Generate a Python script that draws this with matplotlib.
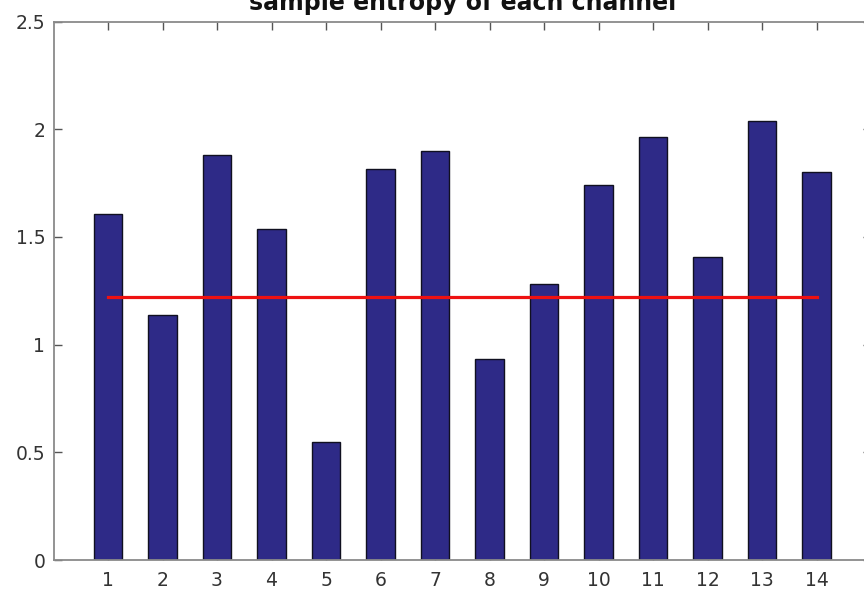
import matplotlib
matplotlib.use("Agg")
import matplotlib.pyplot as plt
import numpy as np

channels = list(range(1, 15))
entropy = [1.606, 1.139, 1.880, 1.537, 0.549, 1.816, 1.901, 0.931, 1.281,
           1.741, 1.963, 1.409, 2.040, 1.802]
threshold = 1.220
yticks = [0, 0.5, 1, 1.5, 2, 2.5]
ytick_labels = ["0", "0.5", "1", "1.5", "2", "2.5"]
title = "sample entropy of each channel"

plt.rcParams['font.family'] = ['DejaVu Sans']

W, H = 864, 592
fig = plt.figure(figsize=(W / 100, H / 100), dpi=100)
fig.patch.set_facecolor('white')
left, right, top, bottom = 53.5, 871, 21.5, 560
ax = fig.add_axes([left / W, 1 - bottom / H, (right - left) / W, (bottom - top) / H])

ax.bar(channels, entropy, width=0.52, color='#2e2a87', edgecolor='#101020',
       linewidth=1.0, zorder=2)
ax.plot([channels[0], channels[-1]], [threshold, threshold], color='#ee1111',
        linewidth=2.3, zorder=3)

ax.set_xlim(0, 15)
ax.set_ylim(0, 2.5)
ax.set_xticks(channels)
ax.set_xticklabels([str(c) for c in channels])
ax.set_yticks(yticks)
ax.set_yticklabels(ytick_labels)

for s in ax.spines.values():
    s.set_color('#8a8a8a')
    s.set_linewidth(1.3)

ax.tick_params(axis='both', direction='in', length=6, width=1.0, color='#555555',
               labelsize=13.5, labelcolor='#333333', top=True, right=True)
ax.tick_params(axis='x', pad=8)
ax.tick_params(axis='y', pad=6)

ax.set_title(title, fontsize=17, fontweight='bold', color='#111111', pad=8.5)

fig.savefig("out.png", dpi=100, facecolor='white')
